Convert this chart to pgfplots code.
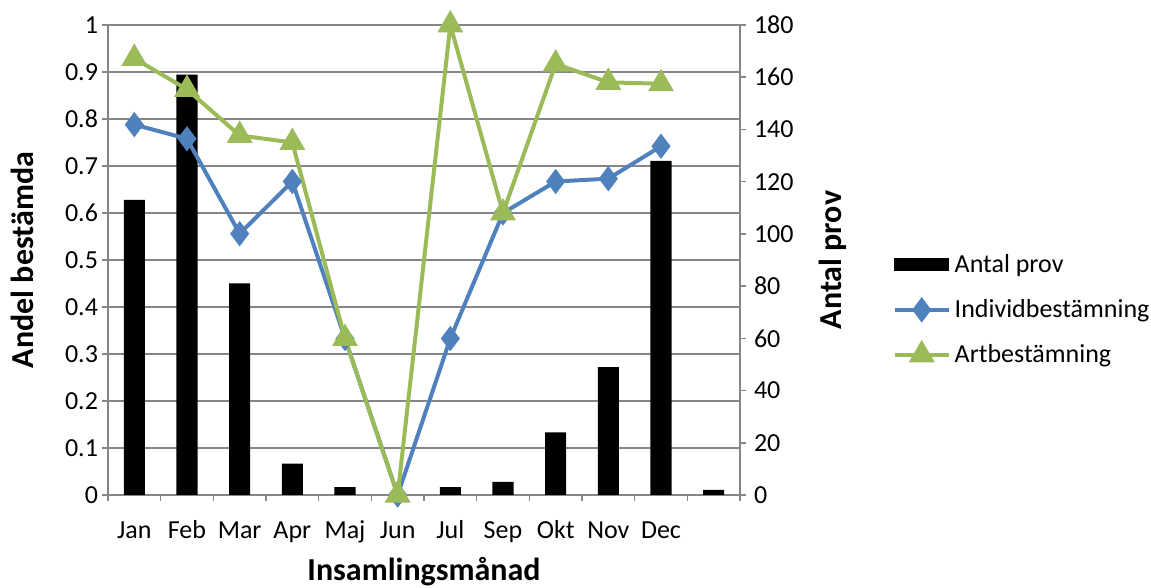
\documentclass[border=0pt]{standalone}
\usepackage{pgfplots}
\pgfplotsset{compat=1.18}
\usepackage{fontspec}
\setmainfont{Carlito}
\definecolor{gridgray}{HTML}{868686}
\definecolor{xlblue}{HTML}{4F81BD}
\definecolor{xlgreen}{HTML}{9BBB59}
\newcommand{\tickfont}{\fontsize{13bp}{15.6bp}\selectfont}
\newcommand{\titlefont}{\fontsize{16bp}{19bp}\selectfont\bfseries}
\pgfplotsset{
  xlline/.style={legend image code/.code={\draw[mark repeat=2,mark phase=2,##1] plot coordinates {(0bp,0bp) (13.5bp,0bp) (27bp,0bp)};}},
  xlbar/.style={legend image code/.code={\fill[black] (0bp,-3bp) rectangle (27bp,3bp);}},
  common/.style={
    width=316bp, height=235bp, scale only axis,
    xmin=-0.5, xmax=11.5,
    /pgf/number format/assume math mode=true,
    tick label style={font=\tickfont},
    axis line style={gridgray, line width=0.75bp},
    tick style={gridgray, line width=0.75bp},
    tick align=outside, major tick length=3bp,
  }
}
\begin{document}
\begin{tikzpicture}
\path[use as bounding box] (-54bp,-46.5bp) rectangle (521.5bp,247.5bp);
% Axis A: left scale, grid, x axis
\begin{axis}[common,
  ymin=0, ymax=1,
  ytick={0,0.1,0.2,0.3,0.4,0.5,0.6,0.7,0.8,0.9,1},
  yticklabel style={/pgf/number format/fixed, xshift=1.5bp},
  ymajorgrids, grid style={gridgray, line width=0.75bp},
  axis x line*=bottom, axis y line*=left,
  xtick={-0.5,0.5,...,11.5}, xticklabels={},
  extra x ticks={0,1,2,3,4,5,6,7,8,9,10},
  extra x tick labels={Jan,Feb,Mar,Apr,Maj,Jun,Jul,Sep,Okt,Nov,Dec},
  extra x tick style={major tick length=0pt},
  xticklabel style={anchor=base, yshift=-21.5bp},
  ylabel={Andel bestämda},
  every axis y label/.style={at={(axis description cs:-0.136,0.5)}, rotate=90, anchor=center, font=\titlefont},
  xlabel={Insamlingsmånad},
  every axis x label/.style={at={(axis description cs:0.5,-0.163)}, anchor=center, font=\titlefont},
]
\end{axis}
% Axis B: bars on right scale
\begin{axis}[common,
  ymin=0, ymax=180,
  ytick={0,20,...,180},
  yticklabel style={xshift=0.5bp},
  axis y line*=right, axis x line=none,
  ylabel={Antal prov},
  every axis y label/.style={at={(axis description cs:1.147,0.5)}, rotate=90, anchor=center, font=\titlefont},
]
\addplot[ybar, bar width=0.4, fill=black, draw=none] coordinates {
  (0,113) (1,161) (2,81) (3,12) (4,3) (5,0) (6,3) (7,5) (8,24) (9,49) (10,128) (11,2)
};
\end{axis}
% Axis C: lines on left scale
\begin{axis}[common,
  ymin=0, ymax=1, hide axis, clip=false,
  legend cell align=left,
  legend style={at={(rel axis cs:1.241,0.394)}, anchor=west, draw=none, fill=none,
    font=\tickfont, inner sep=0pt, row sep=8bp},
]
\addlegendimage{xlbar}
\addlegendentry{Antal prov}
\addplot[xlblue, line width=2bp, mark=diamond*, mark size=4.7bp, mark options={solid, fill=xlblue}, xlline]
  coordinates {(0,0.788) (1,0.758) (2,0.556) (3,0.667) (4,0.333) (5,0) (6,0.333) (7,0.6) (8,0.667) (9,0.673) (10,0.742)};
\addlegendentry{Individbestämning}
\addplot[xlgreen, line width=2bp, mark=triangle*, mark size=5.5bp, mark options={solid, fill=xlgreen}, xlline]
  coordinates {(0,0.929) (1,0.863) (2,0.765) (3,0.75) (4,0.333) (5,0) (6,1) (7,0.6) (8,0.917) (9,0.878) (10,0.875)};
\addlegendentry{Artbestämning}
\end{axis}
\end{tikzpicture}
\end{document}
